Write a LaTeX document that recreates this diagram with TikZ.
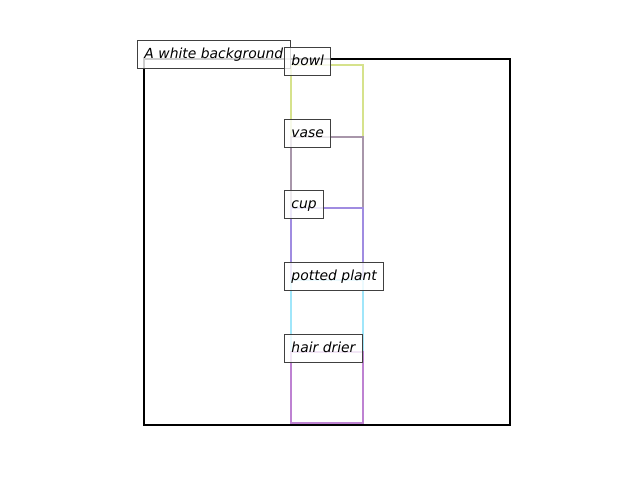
\documentclass[tikz,border=0pt]{standalone}
\usepackage{fontspec}
\setmainfont{DejaVu Sans}
\definecolor{cbowl}{RGB}{214,226,140}
\definecolor{cvase}{RGB}{168,150,170}
\definecolor{ccup}{RGB}{160,140,225}
\definecolor{cplant}{RGB}{160,230,250}
\definecolor{cdrier}{RGB}{190,130,210}
\definecolor{edgegray}{RGB}{64,64,64}
\tikzset{
  lab/.style={draw=edgegray, line width=0.7pt, fill=white, fill opacity=0.8, text opacity=1,
    inner sep=5pt, text height=7.5pt, text depth=2.5pt, anchor=base west, xshift=-5pt,
    font=\itshape\fontsize{10pt}{12pt}\selectfont},
  objbox/.style={line width=1.8pt},
}
\begin{document}
\begin{tikzpicture}[x=0.72pt,y=-0.72pt]
\useasboundingbox (0,0) rectangle (640,480);
\draw[line width=1.5pt] (144,59) rectangle (510,425);
\draw[objbox, cbowl] (291,65) rectangle (363,137);
\draw[objbox, cvase] (291,137) rectangle (363,208);
\draw[objbox, ccup] (291,208) rectangle (363,280);
\draw[objbox, cplant] (291,280) rectangle (363,352);
\draw[objbox, cdrier] (291,352) rectangle (363,423);
\node[lab] (bg) at (144,58) {A white background};
\node[lab] (bowl) at (291,65) {bowl};
\node[lab] (vase) at (291,137) {vase};
\node[lab] (cup) at (291,208) {cup};
\node[lab] (plant) at (291,280) {potted plant};
\node[lab] (drier) at (291,352) {hair drier};
\end{tikzpicture}
\end{document}
